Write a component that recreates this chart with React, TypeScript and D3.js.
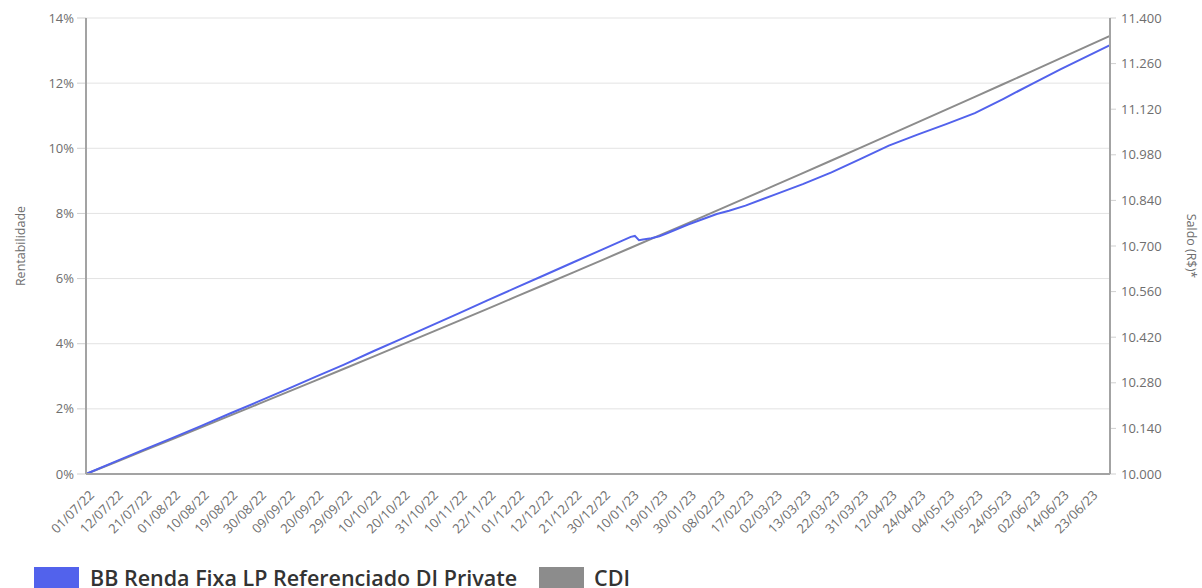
import React from "react";
import * as d3 from "d3";

const tickLabels = [
  "01/07/22", "12/07/22", "21/07/22", "01/08/22", "10/08/22", "19/08/22", "30/08/22", "09/09/22",
  "20/09/22", "29/09/22", "10/10/22", "20/10/22", "31/10/22", "10/11/22", "22/11/22", "01/12/22",
  "12/12/22", "21/12/22", "30/12/22", "10/01/23", "19/01/23", "30/01/23", "08/02/23", "17/02/23",
  "02/03/23", "13/03/23", "22/03/23", "31/03/23", "12/04/23", "24/04/23", "04/05/23", "15/05/23",
  "24/05/23", "02/06/23", "14/06/23", "23/06/23",
];
// business-day index of each tick label
const tickDays = [
  0, 7, 14, 21, 28, 35, 42, 49, 56, 63, 70, 77, 84, 91, 98, 105, 112, 119, 126, 133, 140, 147, 154,
  161, 168, 175, 182, 189, 196, 203, 210, 217, 224, 231, 238, 245,
];
const lastDay = 250;

const cdiDays = [
  0, 7, 14, 21, 28, 35, 42, 49, 56, 63, 70, 77, 84, 91, 98, 105, 112, 119, 126, 133, 140, 147, 154,
  161, 168, 175, 182, 189, 196, 203, 210, 217, 224, 231, 238, 245, 250,
];
const cdiValues = [
  0, 0.354, 0.709, 1.066, 1.424, 1.783, 2.143, 2.505, 2.868, 3.232, 3.597, 3.964, 4.332, 4.702,
  5.072, 5.444, 5.818, 6.192, 6.568, 6.945, 7.324, 7.704, 8.085, 8.468, 8.852, 9.237, 9.624, 10.012,
  10.402, 10.793, 11.185, 11.578, 11.973, 12.37, 12.767, 13.166, 13.453,
];

const fundDays = [
  0, 7, 14, 21, 28, 35, 42, 49, 56, 63, 70, 77, 84, 91, 98, 105, 112, 119, 126, 133, 134, 135, 136,
  138, 140, 142, 147, 150, 154, 157, 161, 168, 175, 182, 189, 196, 203, 210, 217, 224, 231, 238, 245,
  250,
];
const fundValues = [
  0, 0.37, 0.74, 1.1, 1.47, 1.85, 2.22, 2.6, 2.98, 3.36, 3.76, 4.15, 4.54, 4.93, 5.33, 5.72, 6.11,
  6.5, 6.89, 7.28, 7.31, 7.18, 7.2, 7.24, 7.3, 7.4, 7.66, 7.8, 7.98, 8.08, 8.24, 8.57, 8.9, 9.26,
  9.67, 10.08, 10.42, 10.74, 11.08, 11.52, 11.98, 12.43, 12.86, 13.17,
];

const leftTicks = [0, 2, 4, 6, 8, 10, 12, 14];
const rightTicks = [10000, 10140, 10280, 10420, 10560, 10700, 10840, 10980, 11120, 11260, 11400];

const seriesNames = ["BB Renda Fixa LP Referenciado DI Private", "CDI"];
const seriesColors = ["#5262ec", "#8c8c8c"];

const W = 1202;
const H = 588;
const M = { left: 86, right: 1110, top: 18, bottom: 474 };
const FONT = "'Open Sans', 'Noto Sans', sans-serif";

const locale = d3.formatLocale({ decimal: ",", thousands: ".", grouping: [3], currency: ["R$", ""] });
const fmtSaldo = locale.format(",");

export default function App() {
  const x = d3.scaleLinear().domain([0, lastDay]).range([M.left, M.right]);
  const y = d3.scaleLinear().domain([0, 14]).range([M.bottom, M.top]);
  const y2 = d3.scaleLinear().domain([10000, 11400]).range([M.bottom, M.top]);

  const line = d3
    .line<[number, number]>()
    .x((d) => x(d[0]))
    .y((d) => y(d[1]));

  const cdiPath = line(cdiDays.map((d, i) => [d, cdiValues[i]] as [number, number])) || "";
  const fundPath = line(fundDays.map((d, i) => [d, fundValues[i]] as [number, number])) || "";

  const axisColor = "#a3a3a3";
  const textColor = "#6e6e6e";

  return (
    <div style={{ position: "absolute", left: 0, top: 0 }}>
      <svg width={W} height={H} style={{ display: "block", fontFamily: FONT }}>
        <rect x={0} y={0} width={W} height={H} fill="#fff" />
        {/* grid */}
        {leftTicks.map((t) => (
          <line key={"g" + t} x1={M.left} x2={M.right} y1={y(t)} y2={y(t)} stroke="#e3e3e3" strokeWidth={1} />
        ))}
        {/* left ticks */}
        {leftTicks.map((t) => (
          <g key={"l" + t}>
            <line x1={M.left - 9} x2={M.left} y1={y(t)} y2={y(t)} stroke="#cfcfcf" strokeWidth={1} />
            <text x={M.left - 12} y={y(t)} dy="0.35em" textAnchor="end" fontSize={13} fill={textColor}>
              {t}%
            </text>
          </g>
        ))}
        {/* right ticks */}
        {rightTicks.map((t) => (
          <g key={"r" + t}>
            <line x1={M.right} x2={M.right + 6} y1={y2(t)} y2={y2(t)} stroke="#cfcfcf" strokeWidth={1} />
            <text x={M.right + 11} y={y2(t)} dy="0.35em" textAnchor="start" fontSize={13} fill={textColor}>
              {fmtSaldo(t)}
            </text>
          </g>
        ))}
        {/* axis titles */}
        <text
          transform={`translate(25, ${(M.top + M.bottom) / 2}) rotate(-90)`}
          textAnchor="middle"
          fontSize={12.5}
          fill={textColor}
        >
          Rentabilidade
        </text>
        <text
          transform={`translate(1187, ${(M.top + M.bottom) / 2}) rotate(90)`}
          textAnchor="middle"
          fontSize={12.5}
          fill={textColor}
        >
          Saldo (R$)*
        </text>
        {/* x labels */}
        {tickLabels.map((lab, i) => (
          <text
            key={lab}
            transform={`translate(${x(tickDays[i]) + 9}, ${M.bottom + 22}) rotate(-45)`}
            textAnchor="end"
            fontSize={13}
            fill={textColor}
          >
            {lab}
          </text>
        ))}
        {/* series */}
        <path d={cdiPath} fill="none" stroke={seriesColors[1]} strokeWidth={2} />
        <path d={fundPath} fill="none" stroke={seriesColors[0]} strokeWidth={2} />
        {/* axes */}
        <line x1={M.left} x2={M.left} y1={M.top} y2={M.bottom} stroke={axisColor} strokeWidth={2} />
        <line x1={M.right} x2={M.right} y1={M.top} y2={M.bottom} stroke={axisColor} strokeWidth={2} />
        <line x1={M.left} x2={M.right} y1={M.bottom} y2={M.bottom} stroke={axisColor} strokeWidth={2} />
        {/* legend */}
        <rect x={34} y={567} width={45} height={24} fill={seriesColors[0]} />
        <text x={90} y={586} fontSize={21.5} fontWeight={600} fill="#333">
          {seriesNames[0]}
        </text>
        <rect x={539} y={567} width={45} height={24} fill={seriesColors[1]} />
        <text x={594} y={586} fontSize={21.5} fontWeight={600} fill="#333">
          {seriesNames[1]}
        </text>
      </svg>
    </div>
  );
}
